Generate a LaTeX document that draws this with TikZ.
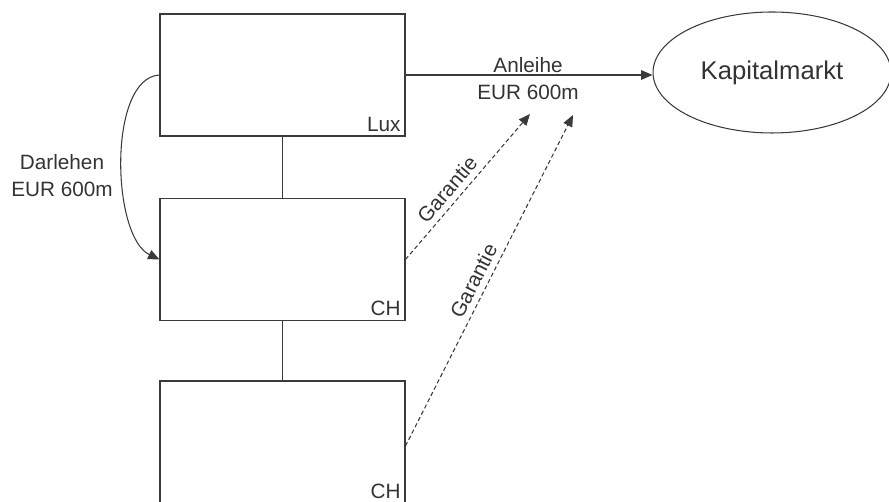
\documentclass[tikz,border=0pt]{standalone}
\usepackage{fontspec}
\setmainfont{Liberation Sans}
\usetikzlibrary{arrows.meta,positioning,shapes.geometric}
\definecolor{boxline}{HTML}{3A3A3A}
\definecolor{labeltext}{HTML}{333333}

\begin{document}
\begin{tikzpicture}[x=0.02cm,y=-0.02cm,
  entity/.style={draw=boxline,line width=0.6pt,minimum width=4.9cm,minimum height=2.44cm,inner sep=0pt},
  tag/.style={font=\fontsize{11.8}{14}\selectfont,text=labeltext,anchor=south east,inner sep=2.6pt},
  lbl/.style={font=\fontsize{11.8}{15.3}\selectfont,text=labeltext,align=center},
  flow/.style={draw=boxline,line width=0.6pt,-{Triangle[length=6.5pt,width=5.5pt]}},
  guarantee/.style={flow,dash pattern=on 2.4pt off 1.6pt}]
  \useasboundingbox (0,0) rectangle (889,502);
  \clip (0,0) rectangle (889,502);
  % Group companies
  \node[entity] (lux) at (282.5,75) {};
  \node[entity] (chA) at (282.5,259.5) {};
  \node[entity] (chB) at (282.5,442) {};
  \node[tag] at (lux.south east) {Lux};
  \node[tag] at (chA.south east) {CH};
  \node[tag] at (chB.south east) {CH};
  % Ownership links
  \draw[boxline,line width=0.6pt] (lux.south) -- (chA.north);
  \draw[boxline,line width=0.6pt] (chA.south) -- (chB.north);
  % Capital market
  \node[ellipse,draw=boxline,line width=0.6pt,minimum width=4.76cm,minimum height=2.42cm,
        font=\fontsize{14.6}{17}\selectfont,text=labeltext] (markt) at (772,72.5) {Kapitalmarkt};
  % Bond issue
  \draw[flow] (lux.east) -- (lux.east -| markt.west);
  \node[lbl] (bond) at (528,78.5) {Anleihe\\EUR 600m};
  % Intercompany loan
  \draw[flow] (lux.west) .. controls +(-52,3) and +(-48,-23) .. (chA.west);
  \node[lbl] (loan) at (62,176) {Darlehen\\EUR 600m};
  % Guarantees
  \coordinate (gA) at (530,114);
  \coordinate (gB) at (573,115);
  \draw[guarantee] (chA.east) -- node[lbl,sloped,above,pos=0.42] {Garantie} (gA);
  \draw[guarantee] ([yshift=-0.08cm]chB.east) -- node[lbl,sloped,above,pos=0.48] {Garantie} (gB);
\end{tikzpicture}
\end{document}
